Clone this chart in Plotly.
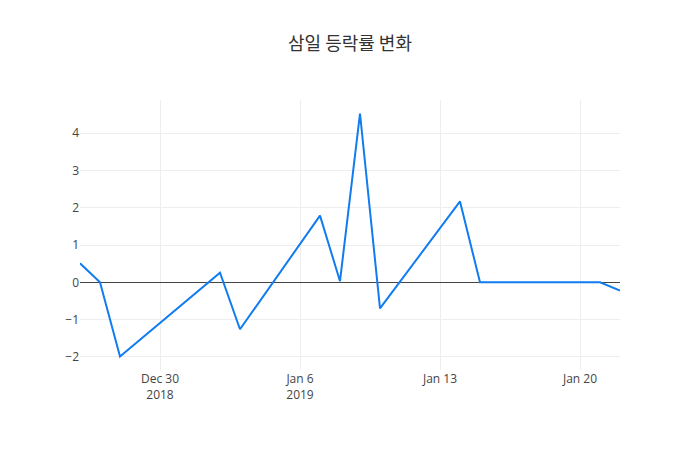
import plotly.graph_objects as go

dates = ["2018-12-26", "2018-12-27", "2018-12-28", "2019-01-02", "2019-01-03",
         "2019-01-07", "2019-01-08", "2019-01-09", "2019-01-10", "2019-01-14",
         "2019-01-15", "2019-01-16", "2019-01-17", "2019-01-18", "2019-01-21",
         "2019-01-22"]
values = [0.51, 0.0, -1.99, 0.26, -1.26,
          1.79, 0.03, 4.53, -0.70, 2.17,
          0.0, 0.0, 0.0, 0.0, 0.0,
          -0.22]

fig = go.Figure(go.Scatter(x=dates, y=values, mode="lines",
                           line=dict(color="rgb(16,124,240)", width=2)))
fig.update_layout(
    template="none",
    title=dict(text="삼일 등락률 변화", x=0.5,
               font=dict(family="Noto Sans CJK KR, Open Sans", size=18, color="#333")),
    width=700, height=450,
    font=dict(family="Open Sans", size=12, color="#444"),
    xaxis=dict(showgrid=True, gridcolor="#eee", zeroline=False),
    yaxis=dict(showgrid=True, gridcolor="#eee", zeroline=True, zerolinecolor="#444", zerolinewidth=1),
    margin=dict(l=80, r=80, t=100, b=80),
    showlegend=False,
)
fig.write_html("out.html")
